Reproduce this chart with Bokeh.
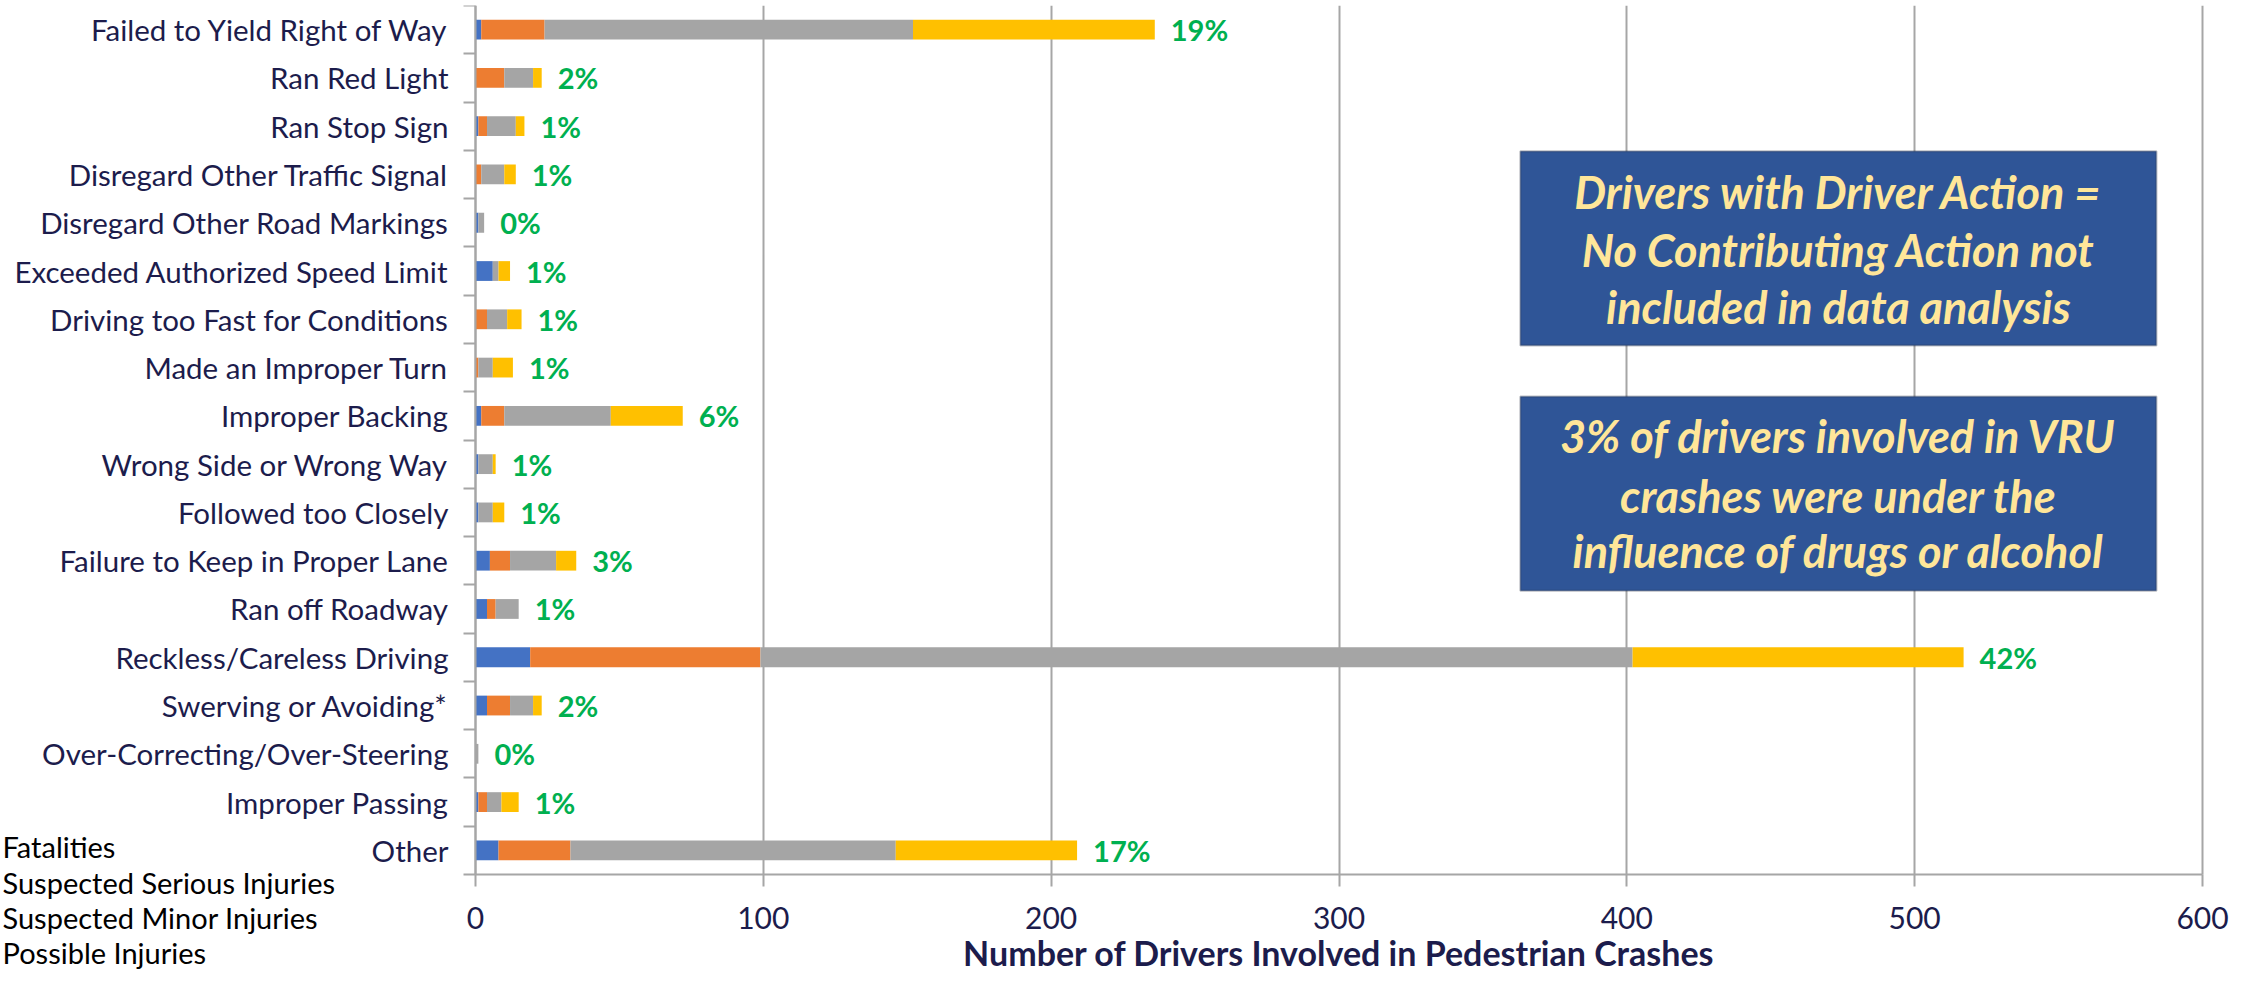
from bokeh.plotting import figure
from bokeh.models import (ColumnDataSource, Range1d, FixedTicker, BoxAnnotation, Label)
from bokeh.core.properties import value
from bokeh.embed import file_html
from bokeh.resources import INLINE

categories = [
    "Failed to Yield Right of Way", "Ran Red Light", "Ran Stop Sign",
    "Disregard Other Traffic Signal", "Disregard Other Road Markings",
    "Exceeded Authorized Speed Limit", "Driving too Fast for Conditions",
    "Made an Improper Turn", "Improper Backing", "Wrong Side or Wrong Way",
    "Followed too Closely", "Failure to Keep in Proper Lane", "Ran off Roadway",
    "Reckless/Careless Driving", "Swerving or Avoiding*",
    "Over-Correcting/Over-Steering", "Improper Passing", "Other",
]
fatal    = [2, 0, 1, 0, 1, 6, 0, 0, 2, 1, 1, 5, 4, 19, 4, 0, 1, 8]
serious  = [22, 10, 3, 2, 0, 0, 4, 1, 8, 0, 0, 7, 3, 80, 8, 0, 3, 25]
minor    = [128, 10, 10, 8, 2, 2, 7, 5, 37, 5, 5, 16, 8, 303, 8, 1, 5, 113]
possible = [84, 3, 3, 4, 0, 4, 5, 7, 25, 1, 4, 7, 0, 115, 3, 0, 6, 63]
pct_labels = ["19%", "2%", "1%", "1%", "0%", "1%", "1%", "1%", "6%", "1%",
              "1%", "3%", "1%", "42%", "2%", "0%", "1%", "17%"]
series_names = ["Fatalities", "Suspected Serious Injuries",
                "Suspected Minor Injuries", "Possible Injuries"]
x_ticks = [0, 100, 200, 300, 400, 500, 600]
note1 = ["Drivers with Driver Action =", "No Contributing Action not",
         "included in data analysis"]
note2 = ["3% of drivers involved in VRU", "crashes were under the",
         "influence of drugs or alcohol"]

colors = ["#4472c4", "#ed7d31", "#a5a5a5", "#ffc000"]
NAVY = "#1c1c4c"
FONT = "Lato"

n = len(categories)
ypos = list(range(n))
totals = [a + b + c + d for a, b, c, d in zip(fatal, serious, minor, possible)]

source = ColumnDataSource(dict(y=ypos, fatal=fatal, serious=serious, minor=minor,
                               possible=possible, total=totals, pct=pct_labels))

# the frame covers the whole canvas (except a thin top strip), so that the
# legend text at the lower left and the last tick label can be drawn inside it
W, H = 2241, 975
LEFT_PX, RIGHT_PX, TOP_PX, AXIS_PX = 475, 2202, 5, 874
XMAX = x_ticks[-1]
px_per_unit = (RIGHT_PX - LEFT_PX) / XMAX
row_px = (AXIS_PX - TOP_PX) / n
x_start = -LEFT_PX / px_per_unit
x_end = XMAX + (W - RIGHT_PX) / px_per_unit
y_bottom = (n - 0.5) + (H - AXIS_PX) / row_px

p = figure(width=W, height=H, output_backend="svg", toolbar_location=None,
           x_range=Range1d(x_start, x_end), y_range=Range1d(y_bottom, -0.5),
           min_border_left=0, min_border_right=0, min_border_top=TOP_PX,
           min_border_bottom=0)
p.outline_line_color = None

p.hbar_stack(["fatal", "serious", "minor", "possible"], y="y", height=0.41,
             color=colors, line_color=None, source=source)

p.text(x="total", y="y", text="pct", source=source, x_offset=16,
       text_align="left", text_baseline="middle", text_color="#00b050",
       text_font=value(FONT), text_font_style="bold", text_font_size="29px")

# x axis
xa = p.xaxis[0]
xa.fixed_location = n - 0.5
xa.bounds = (0, XMAX)
xa.ticker = FixedTicker(ticks=x_ticks)
xa.axis_line_color = "#a6a6a6"
xa.axis_line_width = 2
xa.major_tick_line_color = "#a6a6a6"
xa.major_tick_line_width = 2
xa.major_tick_out = 12
xa.major_tick_in = 0
xa.minor_tick_line_color = None
xa.major_label_text_font = FONT
xa.major_label_text_font_size = "30px"
xa.major_label_text_color = NAVY
xa.major_label_standoff = 20
xa.axis_label = "Number of Drivers Involved in Pedestrian Crashes"
xa.axis_label_text_font = FONT
xa.axis_label_text_font_style = "bold"
xa.axis_label_text_font_size = "34px"
xa.axis_label_text_color = NAVY
xa.axis_label_standoff = 0

# y axis (labels at category centres, ticks at category boundaries)
ya = p.yaxis[0]
ya.fixed_location = 0
ya.bounds = (-0.5, n - 0.5)
ya.ticker = FixedTicker(ticks=ypos, minor_ticks=[i - 0.5 for i in range(n + 1)])
ya.major_label_overrides = {i: c for i, c in zip(ypos, categories)}
ya.axis_line_color = "#a6a6a6"
ya.axis_line_width = 2
ya.major_tick_line_color = None
ya.major_tick_out = 0
ya.major_tick_in = 0
ya.minor_tick_line_color = "#a6a6a6"
ya.minor_tick_line_width = 2
ya.minor_tick_out = 12
ya.minor_tick_in = 0
ya.major_label_text_font = FONT
ya.major_label_text_font_size = "29.5px"
ya.major_label_text_color = NAVY
ya.major_label_standoff = 15

p.xgrid.ticker = FixedTicker(ticks=x_ticks)
p.xgrid.grid_line_color = "#a6a6a6"
p.xgrid.grid_line_width = 2
p.xgrid.bounds = (0, XMAX)
p.xgrid.cross_bounds = (-0.5, n - 0.5)
p.ygrid.grid_line_color = None

# note boxes
for (top, bottom, lines, ys) in [(2.52, 6.54, note1, [3.37, 4.57, 5.75]),
                                 (7.60, 11.62, note2, [8.41, 9.65, 10.79])]:
    p.add_layout(BoxAnnotation(left=363, right=584, top=top, bottom=bottom,
                               fill_color="#2f5597", fill_alpha=1.0,
                               line_color="#262c3c", line_width=2))
    for t, yy in zip(lines, ys):
        p.add_layout(Label(x=473.5, y=yy, text=t, text_align="center",
                           text_baseline="middle", text_color="#ffe699",
                           text_font=FONT, text_font_style="bold italic",
                           text_font_size="45px"))

# legend text at the lower left
for name, yy in zip(series_names, [16.93, 17.66, 18.39, 19.11]):
    p.add_layout(Label(x=x_start + 0.7, y=yy, text=name, text_align="left",
                       text_baseline="middle", text_color="#000000",
                       text_font=FONT, text_font_size="29px"))

open("out.html", "w").write(file_html(p, INLINE))
